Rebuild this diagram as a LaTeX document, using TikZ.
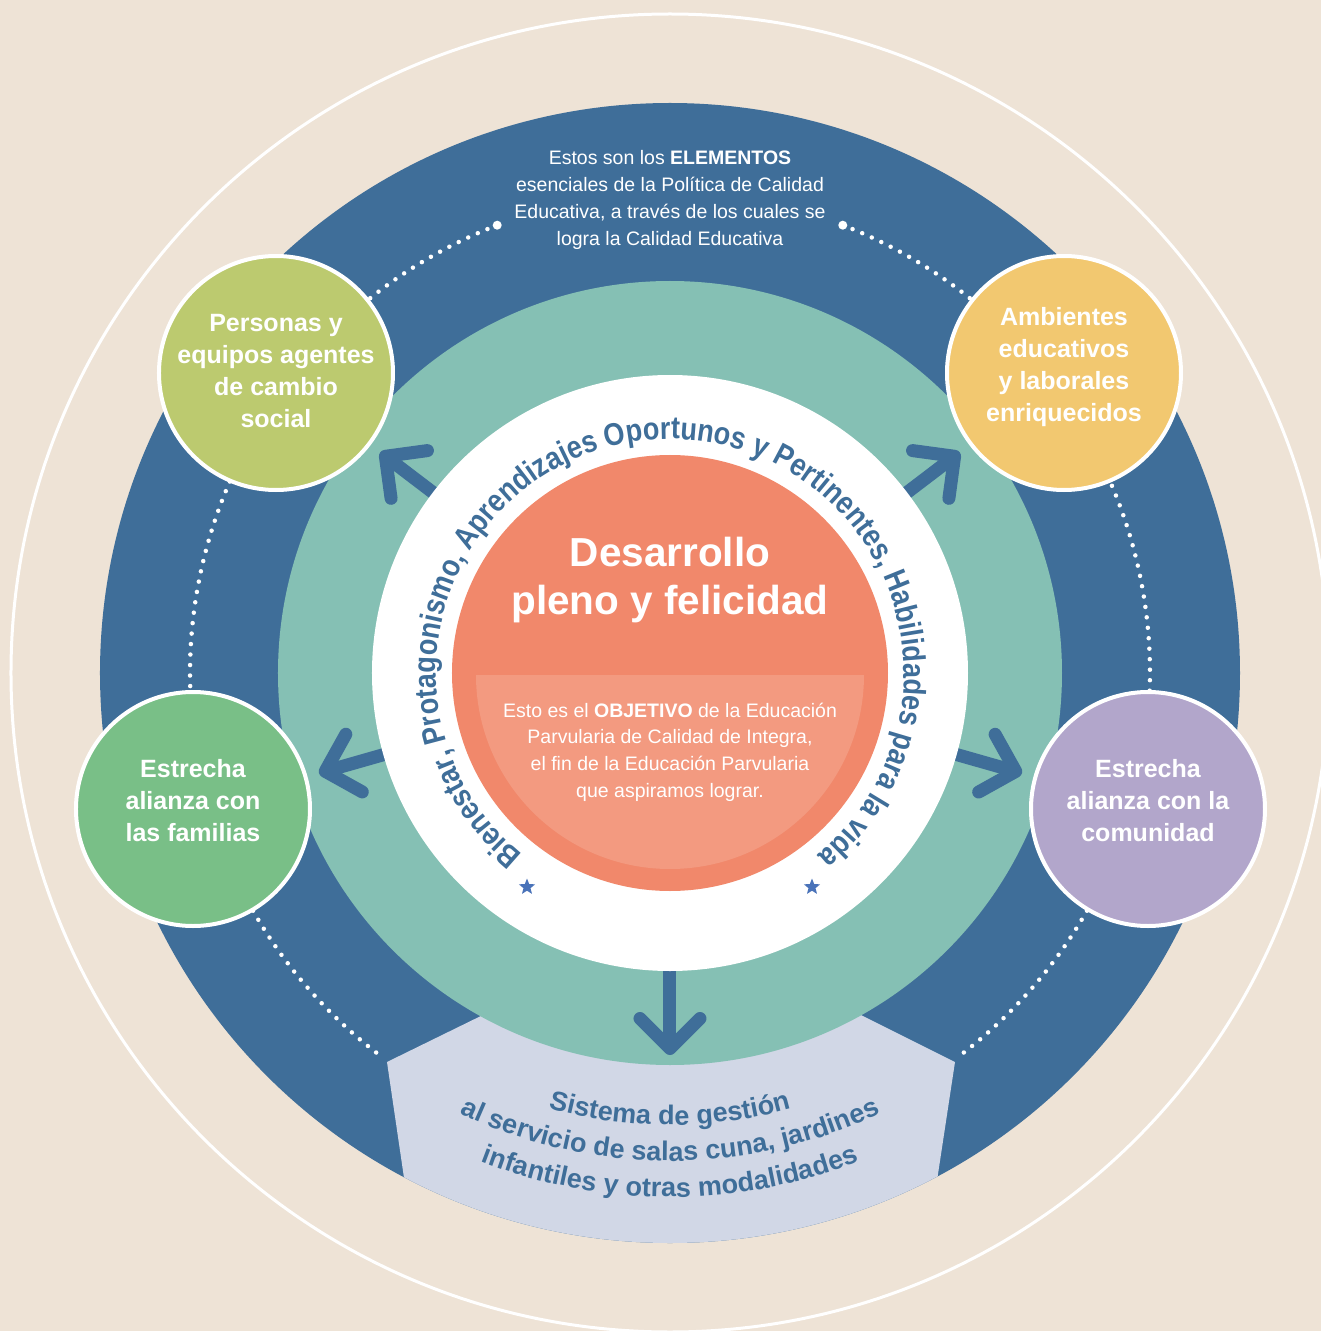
\documentclass[tikz,border=0pt]{standalone}
\usepackage{fontspec}
\setmainfont{Liberation Sans}
\newfontfamily\ringface[FakeStretch=0.86]{Liberation Sans}
\usetikzlibrary{arrows.meta,positioning,calc,decorations.text,shapes.geometric}

\definecolor{paper}{HTML}{EEE3D6}
\definecolor{deepblue}{HTML}{3F6E99}
\definecolor{seagreen}{HTML}{85C0B4}
\definecolor{goalcoral}{HTML}{F1886B}
\definecolor{goallight}{HTML}{F39A80}
\definecolor{mistgray}{HTML}{D1D7E6}
\definecolor{olivegreen}{HTML}{BCCA6F}
\definecolor{sunyellow}{HTML}{F2C870}
\definecolor{leafgreen}{HTML}{79BF87}
\definecolor{lilacpurple}{HTML}{B2A6CB}
\definecolor{starblue}{HTML}{4A73B9}
\newcommand{\ringfont}{\ringface\bfseries\fontsize{31.5}{34}\selectfont\color{deepblue}}
\newcommand{\sysfont}{\bfseries\fontsize{27}{30}\selectfont\color{deepblue}}

\begin{document}
\begin{tikzpicture}[
  x=1pt,y=1pt,
  elem/.style={circle,draw=white,line width=4pt,minimum size=234pt,inner sep=0pt},
  elemtext/.style={align=center,text=white,font=\bfseries\fontsize{25}{32}\selectfont},
  note/.style={align=center,text=white,font=\fontsize{19.5}{26.7}\selectfont},
  bigarrow/.style={draw=deepblue,line width=13pt,line cap=round,-{Straight Barb[length=30pt,width=60pt,round]}},
  dotline/.style={white,line width=4.5pt,line cap=round,dash pattern=on 0pt off 10.5pt},
  starmark/.style={star,star points=5,star point ratio=2.3,fill=starblue,minimum size=17pt,inner sep=0pt}
]
  \useasboundingbox (-670,-658) rectangle (651,673);
  \clip (-670,-658) rectangle (651,673);
  \fill[paper] (-670,-658) rectangle (651,673);
  \draw[white,line width=3pt] (0,0) circle (659);

  % rings
  \fill[deepblue] (0,0) circle (570);
  \begin{scope}
    \clip (0,0) circle (570);
    \fill[mistgray] (-183,-340) -- (-283,-389) -- (-252,-600) -- (253,-600)
      -- (285,-389) -- (187,-340) -- cycle;
  \end{scope}
  \foreach \a/\b in {111.1/142.7, 68.9/37.3, 142.7/195.9, -15.9/37.3, 195.9/233.2, -15.9/-52.4}
    \draw[dotline] (\a:480) arc[start angle=\a,end angle=\b,radius=480];
  \fill[white] (111.1:480) circle (4.5) (68.9:480) circle (4.5);
  \fill[seagreen] (0,0) circle (392);

  % elements
  \coordinate (hub) at (0,0);
  \coordinate (sys) at (0,-477);
  \node[elem,fill=olivegreen] (personas) at (-394,300) {};
  \node[elem,fill=sunyellow] (ambientes) at (394,300) {};
  \node[elem,fill=leafgreen] (familias) at (-477,-136) {};
  \node[elem,fill=lilacpurple] (comunidad) at (478,-136) {};
  \node[elemtext] (personas-t) at (-394,302) {Personas y\\equipos agentes\\de cambio\\social};
  \node[elemtext] (ambientes-t) at (394,306) {Ambientes\\educativos\\y laborales\\enriquecidos};
  \node[elemtext] (familias-t) at (-477,-128) {Estrecha\\alianza con\\las familias};
  \node[elemtext] (comunidad-t) at (478,-128) {Estrecha\\alianza con la\\comunidad};

  \foreach \tgt/\sh in {personas/12, ambientes/12, familias/12, comunidad/12, sys/95}
    \draw[bigarrow,shorten <=280pt,shorten >=\sh pt] (hub) -- (\tgt);

  % centre
  \fill[white] (0,0) circle (298);
  \path[decorate,decoration={text along path,text align=center,
    text={|\ringfont|Bienestar, Protagonismo, Aprendizajes Oportunos y Pertinentes, Habilidades para la vida}}]
    (235:234) arc[start angle=235,end angle=-55,radius=234];
  \node[starmark] (star-l) at (-143,-214) {};
  \node[starmark] (star-r) at (142,-214) {};
  \fill[goalcoral] (0,0) circle (218);
  \fill[goallight] (-194,-2) arc[start angle=180,end angle=360,radius=194] -- cycle;
  \node[align=center,text=white,font=\bfseries\fontsize{40.5}{48}\selectfont] (goal) at (0,93) {Desarrollo\\pleno y felicidad};
  \node[note] (objetivo) at (0,-79) {Esto es el \textbf{OBJETIVO} de la Educación\\Parvularia de Calidad de Integra,\\el fin de la Educación Parvularia\\que aspiramos lograr.};
  \node[note] (elementos) at (0,473) {Estos son los \textbf{ELEMENTOS}\\esenciales de la Política de Calidad\\Educativa, a través de los cuales se\\logra la Calidad Educativa};

  % management system
  \path[decorate,decoration={text along path,text align=center,text={|\sysfont|Sistema de gestión}}]
    (235:452) arc[start angle=235,end angle=305,radius=452];
  \path[decorate,decoration={text along path,text align=center,text={|\sysfont|al servicio de salas cuna, jardines}}]
    (235:488) arc[start angle=235,end angle=305,radius=488];
  \path[decorate,decoration={text along path,text align=center,text={|\sysfont|infantiles y otras modalidades}}]
    (235:524) arc[start angle=235,end angle=305,radius=524];
\end{tikzpicture}
\end{document}
